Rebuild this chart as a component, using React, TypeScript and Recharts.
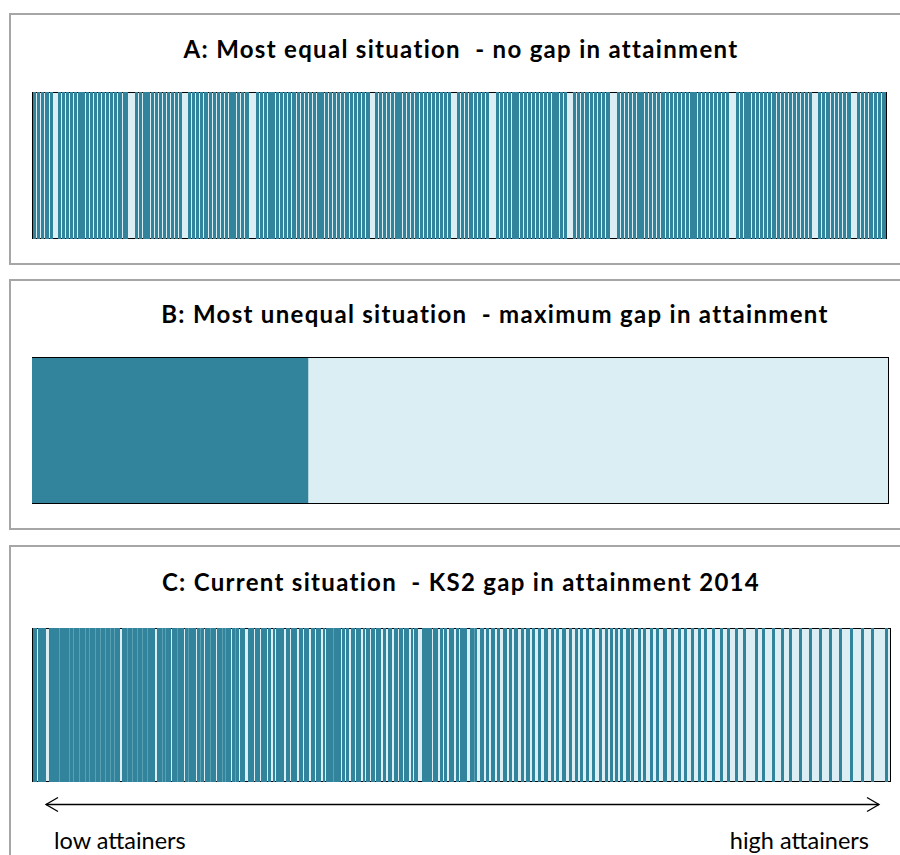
import React from 'react';
import { BarChart, Bar, XAxis, YAxis, Cell } from 'recharts';

const DARK = '#31849B';
const FAINT = '#5B9FB3';
const LIGHT = '#DAEEF3';

// one character per pupil slot: D = disadvantaged, m = faint edge between two, - = other pupil
const equalPupils = [
  '-',
  'DDD-DDD-DDD-DDDD-DDD',
  '-----',
  'DDD-DDD-DDD-DDD-DDD-DDDDDDD-DDD-DDD-DDD-DDD-DDD-DDD-DDD-DDD-DDDD-DDDDD',
  '-------',
  'DDD-DDD-DDDDDDD-DDD-DDD-DDD-DDD-DDD-DDD-DDD-DDD',
  '------',
  'DDD-DDD-DDD-DDD-DDDD-DDD-DDD-DDD-DDD-DDD-DDDDDDD-DDD-DDD-DDDD',
  '-------',
  'DDD-DDD-DDD-DDDDDDD-DDD-DDD-DDD-DDD-DDDD-DDD-DDD-DDD-DDD-DDD-DDDDDDD-DDD-DDD-DDD-DDD-DDD-DDDD-DDD-DDD-DDD-DDD-DDDD',
  '-----',
  'DDD-DDD-DDD-DDD-DDD-DDDDDDD-DDD-DDD-DDD-DDDD-DDD-DDD-DDD-DDD-DDD-DDD-DDD-DDD',
  '------',
  'DDD-DDD-DDD-DDDD-DDD-DDD-DDD-DDD',
  '-------',
  'DDD-DDD-DDD-DDD-DDDDDDD-DDD-DDD-DDD-DDD-DDD-DDD-DDD-DDD-DDDDDDD-DDD-DDD',
  '------',
  'DDD-DDD-DDD-DDDD-DDD-DDD-DDD-DDD-DDDD',
  '-------',
  'DDD-DDD-DDD-DDD-DDD-DDDDDDD-DDD-DDD-DDD-DDD-DDDD-DDD-DDD-DDD-DDD-DDD-DDD-DDDDDDD-DDD-DDD-DDD-DDD-DDD-DDD-DDD-DDD',
  '-------',
  'DDD-DDD-DDDDDDD-DDD-DDD-DDD-DDD-DDD-DDDD-DDD-DDD-DDD-DDD-DDD-DDD-DDD-DDD-DDD',
  '------',
  'DDD-DDD-DDDD-DDD-DDD-DDD-DDD-DDDD',
  '------',
  'DDD-DDD-DDD-DDDD-DDD-DDD-DDDD',
  '-',
];

const unequalGroups = ['Disadvantaged pupils', 'Other pupils'];
const unequalShares = [32.3, 67.7];

// pupils ordered from low to high attainment (KS2 2014)
const currentPupils = [
  // low attainers
  '-DDDD-DDDDDDDD---DDDDDDDDDDmDDDDDDDDDmDDDmDDDDDmDDDDDmDDDmDDDDDm',
  'DDDDmDDDDmDDDDmDDDmDDDDD--DDDDDmDDDDmDDDDmDDDDmDDDDmDDDDDDD--',
  'DDDDDmDDmDDDDD-DDDDDmDDDDDD-DDDmDDDDDDD-DDDmDDD-DDDDDmDDDDD-',
  'DDDDDmDDmDDDDD-DDDmDDD-DDDDD',
  // middle
  '---DDDDDD-DDDDD-DDDDDD-DDD--DD-DDDDDDDD--DDDD-DDDDDD--DDDD-DDDDD--',
  'DDDD-DDDDD--DD-DDDDDDDmDDDDDDD-DDD-DDD--DDDD-DDDDD--DD-DDDD-DDDD-',
  'DDDDD--DDD--DDDD--DDDD-DDDD-DDDDD--DD-DDDD----DDDDDDDDDD-DDDDD--',
  'DDD-DDD--DDDDD--DDD-',
  'DDDDDDD---DDDDmDD---',
  'DDDD--DDD--DDDD--DDD---DDDD--DDD--DDDD---DDD--DDDD--DDD---',
  'DDD---DDDD---DDD--DDD---DDDD---DDD---DDD--DDD---DDD---DDD---',
  // high attainers
  '-DDD---DDD--DDD--DDD--DDD---DDDD-DDD----DDD--DDD----DDD---DDD----',
  'DDDD----DDD----DDD---DDD----DDD----DDD---DDD-----DDD-----DDD----',
  'DDD-----DDD-----DDD---------DDD----DDD-------DDD------DDD-----',
  'DDD-------DDD-------DDD-------DDD-------DDD-------DDD--------',
  'DDD--------DDD-------DDD-----------DDD---',
];

const panelTitles = [
  'A: Most equal situation  - no gap in attainment',
  'B: Most unequal situation  - maximum gap in attainment',
  'C: Current situation  - KS2 gap in attainment 2014',
];
const axisLabels = ['low attainers', 'high attainers'];

const FONT = 'Lato, "Open Sans", sans-serif';

const slotFill = (kind: string) => (kind === 'D' ? DARK : kind === 'm' ? FAINT : 'none');

const PupilStrip = ({ pieces, left, top, height }: { pieces: string[]; left: number; top: number; height: number }) => {
  const rows = pieces
    .join('')
    .split('')
    .map((kind, i) => ({ pupil: i, v: 1, kind }));
  const width = rows.length;
  return (
    <div style={{ position: 'absolute', left, top, width, height }}>
      <div
        style={{
          position: 'absolute',
          inset: 0,
          background: LIGHT,
          border: '1px solid #000',
          boxSizing: 'border-box',
        }}
      />
      <BarChart
        width={width}
        height={height}
        data={rows}
        margin={{ top: 0, right: 0, bottom: 0, left: 0 }}
        barCategoryGap={0}
        barGap={0}
      >
        <XAxis dataKey="pupil" hide />
        <YAxis hide domain={[0, 1]} />
        <Bar dataKey="v" isAnimationActive={false}>
          {rows.map((r) => (
            <Cell key={r.pupil} fill={slotFill(r.kind)} />
          ))}
        </Bar>
      </BarChart>
    </div>
  );
};

const Panel = ({ top, height }: { top: number; height: number }) => (
  <div
    style={{
      position: 'absolute',
      left: 9,
      top,
      width: 900,
      height,
      border: '2px solid #A6A6A6',
      boxSizing: 'border-box',
    }}
  />
);

const Title = ({ text, center, top }: { text: string; center: number; top: number }) => (
  <div
    style={{
      position: 'absolute',
      left: center - 400,
      width: 800,
      top,
      textAlign: 'center',
      fontFamily: FONT,
      fontWeight: 700,
      fontSize: 24,
      letterSpacing: '1.3px',
      lineHeight: '28px',
      whiteSpace: 'pre',
      color: '#000',
    }}
  >
    {text}
  </div>
);

const labelStyle: React.CSSProperties = {
  position: 'absolute',
  top: 827,
  fontFamily: FONT,
  fontSize: 23.5,
  lineHeight: '26px',
  color: '#000',
  whiteSpace: 'pre',
};

export default function App() {
  const unequalRow = [{ group: 'pupils', disadvantaged: unequalShares[0], other: unequalShares[1] }];
  return (
    <div style={{ position: 'absolute', left: 0, top: 0, width: 900, height: 855, overflow: 'hidden', background: '#fff' }}>
      <Panel top={13} height={252} />
      <Panel top={279} height={251} />
      <Panel top={545} height={400} />

      <Title text={panelTitles[0]} center={461} top={35} />
      <Title text={panelTitles[1]} center={495} top={300} />
      <Title text={panelTitles[2]} center={461} top={568} />

      <PupilStrip pieces={equalPupils} left={32} top={92} height={147} />

      <div style={{ position: 'absolute', left: 32, top: 357, width: 857, height: 147 }}>
        <div
          style={{
            position: 'absolute',
            inset: 0,
            background: LIGHT,
            border: '1px solid #000',
            boxSizing: 'border-box',
          }}
        />
        <BarChart
          layout="vertical"
          width={857}
          height={147}
          data={unequalRow}
          margin={{ top: 1, right: 1, bottom: 1, left: 0 }}
          barCategoryGap={0}
        >
          <XAxis type="number" domain={[0, 100]} hide />
          <YAxis type="category" dataKey="group" hide />
          <Bar dataKey="disadvantaged" name={unequalGroups[0]} stackId="s" fill={DARK} isAnimationActive={false} />
          <Bar dataKey="other" name={unequalGroups[1]} stackId="s" fill={LIGHT} isAnimationActive={false} />
        </BarChart>
      </div>

      <PupilStrip pieces={currentPupils} left={32} top={628} height={154} />

      <svg style={{ position: 'absolute', left: 0, top: 790 }} width={900} height={30}>
        <line x1={46} y1={14.5} x2={879} y2={14.5} stroke="#000" strokeWidth={1.3} />
        <polyline points="58,7.5 46,14.5 58,21.5" fill="none" stroke="#000" strokeWidth={1.3} />
        <polyline points="867,7.5 879,14.5 867,21.5" fill="none" stroke="#000" strokeWidth={1.3} />
      </svg>

      <div style={{ ...labelStyle, left: 54 }}>{axisLabels[0]}</div>
      <div style={{ ...labelStyle, right: 900 - 869, textAlign: 'right' }}>{axisLabels[1]}</div>
    </div>
  );
}
